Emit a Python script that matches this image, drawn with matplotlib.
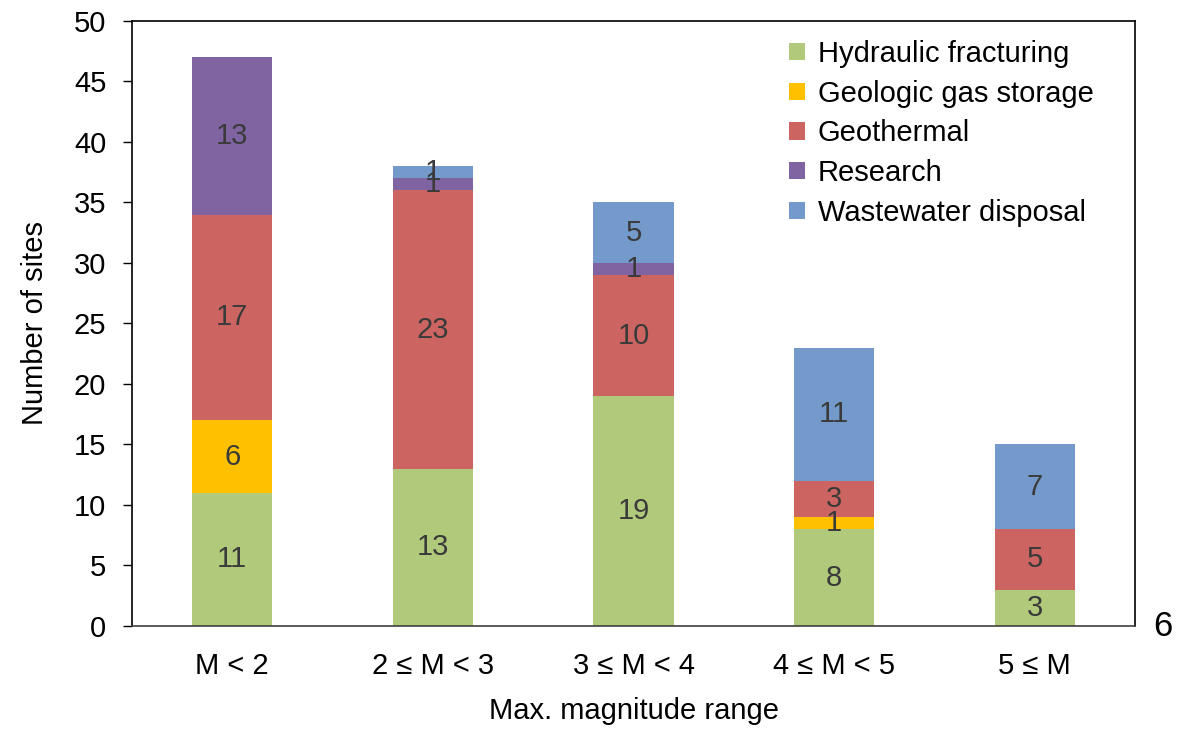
import numpy as np
import matplotlib.pyplot as plt

plt.rcParams['font.family'] = ['Liberation Sans', 'DejaVu Sans']

categories = ['M < 2', '2 ≤ M < 3', '3 ≤ M < 4', '4 ≤ M < 5', '5 ≤ M']
hydraulic = [11, 13, 19, 8, 3]
gas_storage = [6, 0, 0, 1, 0]
geothermal = [17, 23, 10, 3, 5]
research = [13, 1, 1, 0, 0]
wastewater = [0, 1, 5, 11, 7]

series = [
    ('Hydraulic fracturing', hydraulic, '#B0C97A'),
    ('Geologic gas storage', gas_storage, '#FFC000'),
    ('Geothermal', geothermal, '#CC6561'),
    ('Research', research, '#8064A2'),
    ('Wastewater disposal', wastewater, '#739ACB'),
]

fig = plt.figure(figsize=(11.87, 7.33), dpi=100)
ax = fig.add_axes([0.1112, 0.146, 0.845, 0.8254])

x = np.arange(len(categories))
bottom = np.zeros(len(categories))
for name, vals, color in series:
    vals = np.array(vals, dtype=float)
    ax.bar(x, vals, width=0.4, bottom=bottom, color=color, label=name)
    for xi, b, v in zip(x, bottom, vals):
        if v > 0:
            ax.text(xi, b + v / 2, '%d' % v, ha='center', va='center',
                    fontsize=21, color='#3a3a3a')
    bottom += vals

ax.set_xlim(-0.5, 4.5)
ax.set_ylim(0, 50)
ax.set_yticks(range(0, 51, 5))
ax.set_xticks(x)
ax.set_xticklabels(categories)
ax.tick_params(axis='x', length=0, pad=19, labelsize=21)
ax.tick_params(axis='y', length=6.5, width=1, pad=12, labelsize=21)
for s in ax.spines.values():
    s.set_linewidth(1.2)
    s.set_color('#000000')
ax.spines['bottom'].set_color('#404040')

ax.set_xlabel('Max. magnitude range', fontsize=21, labelpad=12)
ax.set_ylabel('Number of sites', fontsize=21, labelpad=18)

ax.legend(loc='upper right', frameon=False, fontsize=21,
          handlelength=0.55, handleheight=0.55, handletextpad=0.45,
          labelspacing=0.4, bbox_to_anchor=(0.985, 1.012))

fig.text(1163 / 1187, 1 - 636 / 733, '6', ha='center', va='baseline', fontsize=25)

fig.savefig('out.png', dpi=100)
